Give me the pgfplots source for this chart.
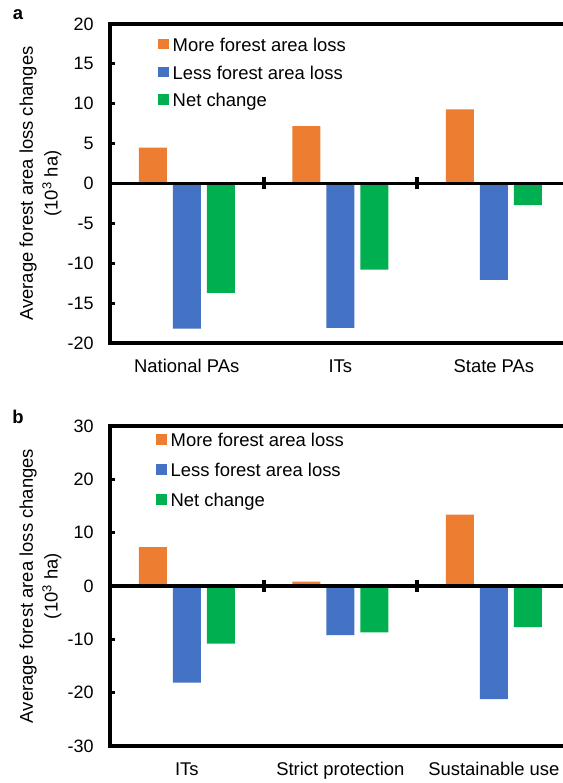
\documentclass[border=0pt]{standalone}
\usepackage{fontspec}
\setmainfont{Liberation Sans}
\usepackage{pgfplots}
\pgfplotsset{compat=1.18}
\definecolor{cOr}{HTML}{ED7D31}
\definecolor{cBl}{HTML}{4472C4}
\definecolor{cGr}{HTML}{00B050}
\tikzset{myframe/.style={line width=3.5bp}}
\pgfplotsset{
  sqleg/.style={legend image code/.code={\fill[##1] (0bp,-4bp) rectangle (10.5bp,6.5bp);}},
  panel/.style={
    scale only axis, width=453bp, ybar=6bp, bar width=28bp,
    xmin=-0.5, xmax=2.45,
    axis line style={draw=none},
    xtick={0,1,2},
    xtick style={draw=none},
    ytick pos=left, tick align=inside,
    ytick style={line width=3bp, black},
    major tick length=5bp,
    /pgf/number format/assume math mode=true,
    tick label style={font=\fontsize{18}{21}\selectfont},
    yticklabel style={xshift=-13bp},
    xticklabel style={yshift=-13bp, font=\fontsize{18.5}{21}\selectfont},
    every axis y label/.style={at={(axis description cs:0,0.5)}, xshift=-69.5bp, rotate=90, anchor=center, align=center, font=\fontsize{18.5}{25}\selectfont},
    ylabel={Average forest area loss changes\\(10\textsuperscript{3} ha)},
    legend style={draw=none, fill=none, anchor=north west, inner sep=0pt, column sep=4bp, font=\fontsize{18.5}{21}\selectfont, nodes={inner sep=0pt}},
    legend cell align=left,
    clip=false,
  },
}
\begin{document}
\begin{tikzpicture}
\useasboundingbox (0,0) rectangle (563bp,783bp);
\node[font=\bfseries\fontsize{18.5}{20}\selectfont] at (18bp,768bp) {a};
\node[font=\bfseries\fontsize{18.5}{20}\selectfont] at (18bp,366bp) {b};
\begin{axis}[panel, at={(110bp,440bp)}, anchor=south west, height=319bp,
  ymin=-20, ymax=20, ytick={-20,-15,...,20},
  xticklabels={National PAs, ITs, State PAs},
  legend style={at={(axis description cs:0.106,0.9565)}, row sep=12.8bp}]
\addplot[fill=cOr, draw=none, sqleg] coordinates {(0,4.5) (1,7.2) (2,9.3)};
\addplot[fill=cBl, draw=none, sqleg] coordinates {(0,-18.2) (1,-18.1) (2,-12.1)};
\addplot[fill=cGr, draw=none, sqleg] coordinates {(0,-13.7) (1,-10.8) (2,-2.7)};
\legend{More forest area loss, Less forest area loss, Net change}
\draw[myframe] (rel axis cs:1,1) -- (rel axis cs:0,1) -- (rel axis cs:0,0) -- (rel axis cs:1,0);
\draw[myframe] (axis cs:-0.5,0) -- (axis cs:2.45,0);
\draw[line width=4bp] (axis cs:0.5,0) ++(0pt,-6bp) -- ++(0pt,12bp);
\draw[line width=4bp] (axis cs:1.5,0) ++(0pt,-6bp) -- ++(0pt,12bp);
\end{axis}
\begin{axis}[panel, at={(110bp,37bp)}, anchor=south west, height=320bp,
  ymin=-30, ymax=30, ytick={-30,-20,...,30},
  xticklabels={ITs, Strict protection, Sustainable use},
  legend style={at={(axis description cs:0.1015,0.978)}, row sep=15.3bp}]
\addplot[fill=cOr, draw=none, sqleg] coordinates {(0,7.3) (1,0.8) (2,13.4)};
\addplot[fill=cBl, draw=none, sqleg] coordinates {(0,-18.1) (1,-9.2) (2,-21.2)};
\addplot[fill=cGr, draw=none, sqleg] coordinates {(0,-10.8) (1,-8.7) (2,-7.7)};
\legend{More forest area loss, Less forest area loss, Net change}
\draw[myframe] (rel axis cs:1,1) -- (rel axis cs:0,1) -- (rel axis cs:0,0) -- (rel axis cs:1,0);
\draw[myframe] (axis cs:-0.5,0) -- (axis cs:2.45,0);
\draw[line width=4bp] (axis cs:0.5,0) ++(0pt,-6bp) -- ++(0pt,12bp);
\draw[line width=4bp] (axis cs:1.5,0) ++(0pt,-6bp) -- ++(0pt,12bp);
\end{axis}
\end{tikzpicture}
\end{document}
